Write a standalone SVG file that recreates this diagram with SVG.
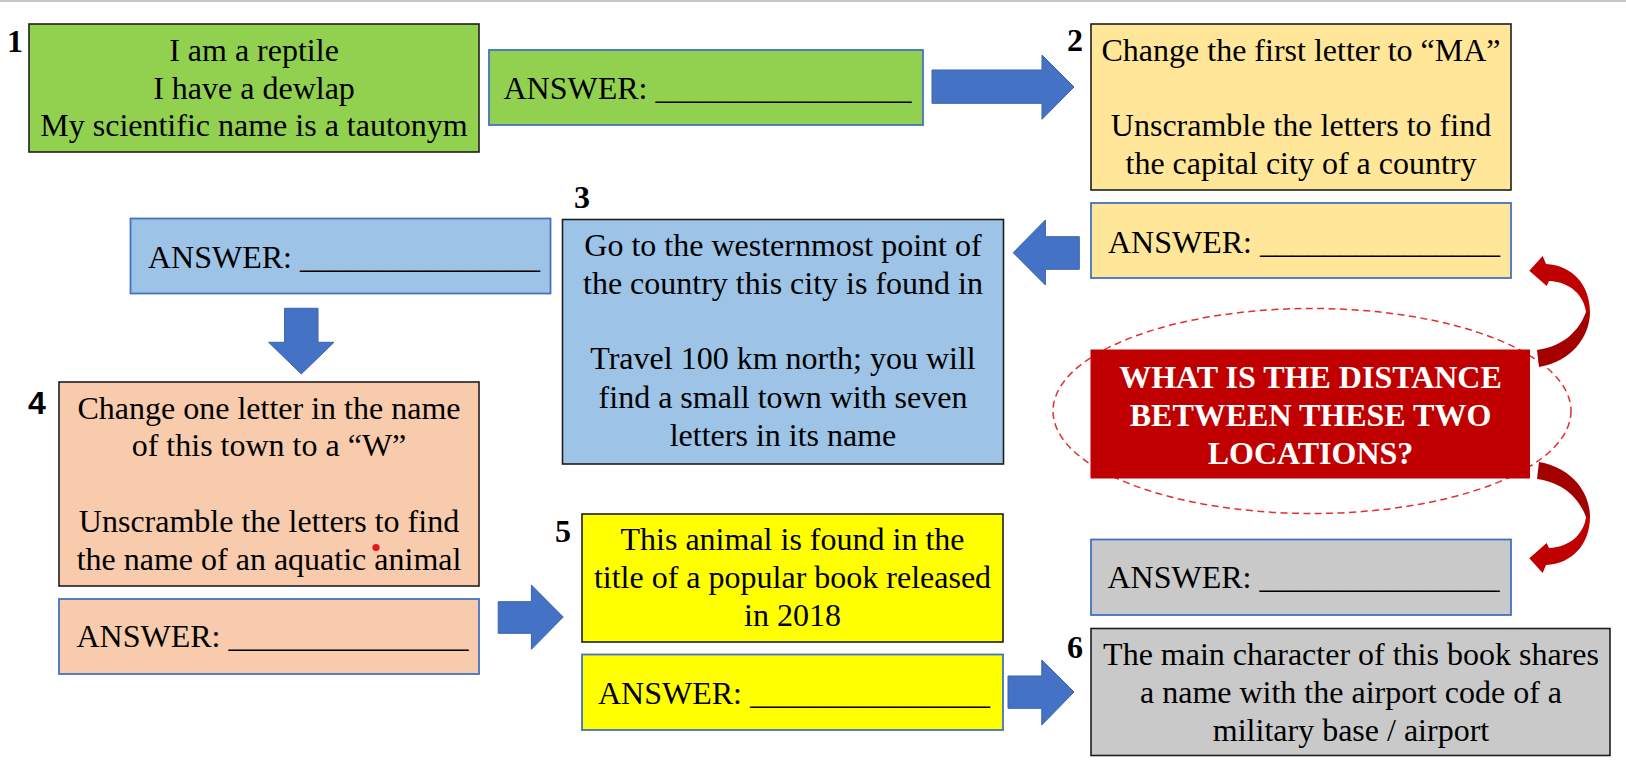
<svg xmlns="http://www.w3.org/2000/svg" width="1626" height="784" viewBox="0 0 1626 784">
<style>
.t{font-family:"Liberation Serif","Times New Roman",serif;font-size:32px;fill:#000}
.c{text-anchor:middle}
.num{font-family:"Liberation Serif","Times New Roman",serif;font-size:32px;font-weight:bold;fill:#000}
.numS{font-family:"Liberation Sans",Arial,sans-serif;font-size:32px;font-weight:bold;fill:#000}
.box{stroke:#1e1e1e;stroke-width:1.6}
.ans{stroke:#4472c4;stroke-width:1.8}
.q{font-family:"Liberation Serif","Times New Roman",serif;font-size:32px;font-weight:bold;fill:#fff;text-anchor:middle}
.blue{fill:#4472c4;stroke:#3a62ad;stroke-width:1}
.dark{fill:#a30000}
.red{fill:#c00000}
</style>
<rect x="0" y="0" width="1626" height="784" fill="#fff"/>
<line x1="0" y1="1" x2="1626" y2="1" stroke="#c6c6c6" stroke-width="2"/>

<g id="node1">
<rect class="box" x="29" y="24" width="450" height="128" fill="#92d050"/>
<text class="num" x="7" y="52">1</text>
<text class="t c" x="254" y="61">I am a reptile</text>
<text class="t c" x="254" y="98.5">I have a dewlap</text>
<text class="t c" x="254" y="136">My scientific name is a tautonym</text>
</g>
<g id="answer1">
<rect class="ans" x="489" y="50" width="434" height="75" fill="#92d050"/>
<text class="t" x="503.5" y="99">ANSWER: ________________</text>
</g>

<g id="node2">
<rect class="box" x="1091" y="24" width="420" height="166" fill="#ffe699"/>
<text class="num" x="1067" y="51">2</text>
<text class="t c" x="1301" y="61">Change the first letter to “MA”</text>
<text class="t c" x="1301" y="136">Unscramble the letters to find</text>
<text class="t c" x="1301" y="173.5">the capital city of a country</text>
</g>
<g id="answer2">
<rect class="ans" x="1091" y="203" width="420" height="75" fill="#ffe699"/>
<text class="t" x="1108" y="252.5">ANSWER: _______________</text>
</g>

<g id="node3">
<rect class="box" x="562.5" y="219.5" width="441" height="244.5" fill="#9dc3e6"/>
<text class="num" x="574" y="208">3</text>
<text class="t c" x="783" y="256">Go to the westernmost point of</text>
<text class="t c" x="783" y="293.5">the country this city is found in</text>
<text class="t c" x="783" y="369">Travel 100 km north; you will</text>
<text class="t c" x="783" y="407.5">find a small town with seven</text>
<text class="t c" x="783" y="446">letters in its name</text>
</g>
<g id="answer3">
<rect class="ans" x="130.5" y="218.5" width="420" height="75" fill="#9dc3e6"/>
<text class="t" x="148" y="267.5">ANSWER: _______________</text>
</g>

<g id="node4">
<rect class="box" x="59" y="382" width="420" height="204" fill="#f8cbad"/>
<text class="numS" x="28" y="414">4</text>
<text class="t c" x="269" y="418.5">Change one letter in the name</text>
<text class="t c" x="269" y="456">of this town to a “W”</text>
<text class="t c" x="269" y="532">Unscramble the letters to find</text>
<text class="t c" x="269" y="570">the name of an aquatic animal</text>
<circle cx="376" cy="547.5" r="3.6" fill="#e8141b"/>
</g>
<g id="answer4">
<rect class="ans" x="59" y="599" width="420" height="75" fill="#f8cbad"/>
<text class="t" x="76.5" y="647">ANSWER: _______________</text>
</g>

<g id="node5">
<rect class="box" x="582" y="514" width="421" height="128" fill="#ffff00"/>
<text class="num" x="555" y="542">5</text>
<text class="t c" x="792.5" y="550">This animal is found in the</text>
<text class="t c" x="792.5" y="587.5">title of a popular book released</text>
<text class="t c" x="792.5" y="625.5">in 2018</text>
</g>
<g id="answer5">
<rect class="ans" x="582" y="654.5" width="421" height="75.5" fill="#ffff00"/>
<text class="t" x="598" y="704">ANSWER: _______________</text>
</g>

<g id="node6">
<rect class="box" x="1091" y="628.5" width="519" height="127" fill="#c9c9c9"/>
<text class="num" x="1067" y="658">6</text>
<text class="t c" x="1351" y="665">The main character of this book shares</text>
<text class="t c" x="1351" y="702.5">a name with the airport code of a</text>
<text class="t c" x="1351" y="740.5">military base / airport</text>
</g>
<g id="answer6">
<rect class="ans" x="1091" y="539.5" width="420" height="75.5" fill="#c9c9c9"/>
<text class="t" x="1107.5" y="587.5">ANSWER: _______________</text>
</g>

<g id="ellipse">
<ellipse cx="1312" cy="411" rx="259" ry="102.5" fill="none" stroke="#e0302e" stroke-width="1.5" stroke-dasharray="7 4.5"/>
</g>
<g id="question">
<rect x="1090.5" y="349.5" width="439.5" height="129" fill="#c00000"/>
<text class="q" x="1310.5" y="387.5">WHAT IS THE DISTANCE</text>
<text class="q" x="1310.5" y="425.5">BETWEEN THESE TWO</text>
<text class="q" x="1310.5" y="463.5">LOCATIONS?</text>
</g>

<g id="connectors">
<polygon class="blue" points="932,70 1042,70 1042,55 1074,87 1042,119.3 1042,103.3 932,103.3"/>
<polygon class="blue" points="1079.3,236.7 1045.4,236.7 1045.4,220 1013.2,252.7 1045.4,285 1045.4,269.3 1079.3,269.3"/>
<polygon class="blue" points="284.6,308.3 318,308.3 318,342.3 334,342.3 301.3,374 268.6,342.3 284.6,342.3"/>
<polygon class="blue" points="498.2,601.7 531.4,601.7 531.4,585 563.2,617 531.4,649.3 531.4,633.3 498.2,633.3"/>
<polygon class="blue" points="1008,676 1041.8,676 1041.8,660 1074,692 1041.8,725 1041.8,708.3 1008,708.3"/>
<g id="curved-top">
<path class="dark" d="M1537,350 C1558,347 1577,336 1586,312 L1590,312 C1590,338 1570,362 1539,367 Z"/>
<path class="red" d="M1586,312 C1584,296 1571,282 1549,281 L1546.7,286 L1529.3,270.7 L1542.7,256 L1546,264 C1572,265 1590,285 1590,312 Z"/>
</g>
<g id="curved-bottom" transform="matrix(1,0,0,-1,0,829)">
<path class="dark" d="M1537,350 C1558,347 1577,336 1586,312 L1590,312 C1590,338 1570,362 1539,367 Z"/>
<path class="red" d="M1586,312 C1584,296 1571,282 1549,281 L1546.7,286 L1529.3,270.7 L1542.7,256 L1546,264 C1572,265 1590,285 1590,312 Z"/>
</g>
</g>
</svg>
